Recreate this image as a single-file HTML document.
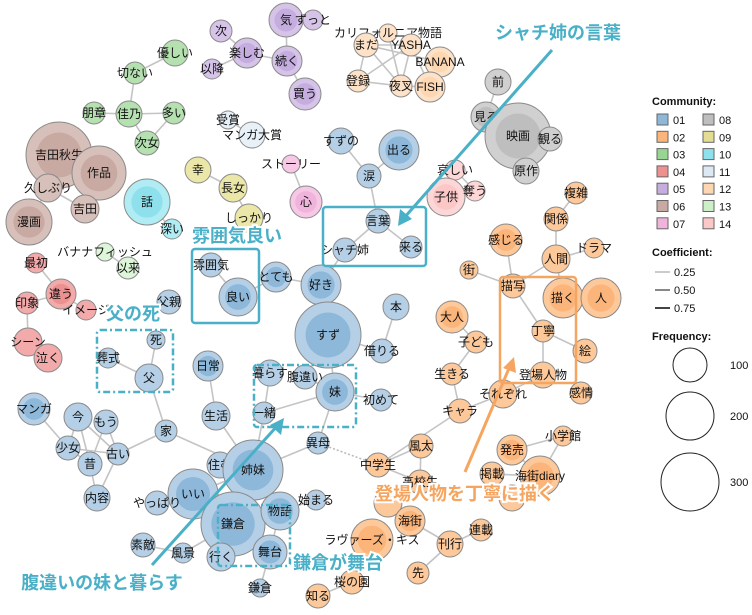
<!DOCTYPE html>
<html><head><meta charset="utf-8"><style>
body{margin:0;background:#fff;}
svg{display:block;font-family:"Liberation Sans","Noto Sans CJK JP",sans-serif;}
.n{font-size:12px;text-anchor:middle;dominant-baseline:central;fill:#111;}
.ann{font-size:18px;font-weight:bold;text-anchor:middle;dominant-baseline:central;stroke:#fff;stroke-width:4px;paint-order:stroke;}
.lg{font-size:11px;fill:#111;}
</style></head><body>
<svg id="s" width="752" height="615" viewBox="0 0 752 615" xmlns="http://www.w3.org/2000/svg">
<g id="edges" stroke="#c4c4c4" stroke-width="1.6" fill="none"></g>
<g id="nodes"></g>
<g fill="none" stroke-width="2.5">
<rect x="192" y="249" width="67" height="74" rx="3" stroke="#4ab0c8"/>
<rect x="323" y="207" width="103" height="59" rx="3" stroke="#4ab0c8"/>
<rect x="97" y="330" width="76" height="62" rx="3" stroke="#4ab0c8" stroke-dasharray="7,3,2,3"/>
<rect x="254" y="365" width="102" height="62" rx="3" stroke="#4ab0c8" stroke-dasharray="7,3,2,3"/>
<rect x="218" y="505" width="72" height="61" rx="3" stroke="#4ab0c8" stroke-dasharray="7,3,2,3"/>
<rect x="500" y="277" width="76" height="106" rx="3" stroke="#f5a560"/>
</g>
<g stroke-width="3">
<line x1="552" y1="50" x2="404" y2="218" stroke="#4ab0c8"/>
<polygon points="398,226 400,209 412,219" fill="#4ab0c8"/>
<line x1="152" y1="565" x2="278" y2="425" stroke="#4ab0c8"/>
<polygon points="284,418 281,435 270,425" fill="#4ab0c8"/>
<line x1="465" y1="472" x2="510" y2="366" stroke="#f5a560"/>
<polygon points="514,357 516,373 503,368" fill="#f5a560"/>
</g>
<g class="ann">
<text x="237" y="236" fill="#4ab0c8">雰囲気良い</text>
<text x="558" y="33" fill="#4ab0c8">シャチ姉の言葉</text>
<text x="133" y="314" fill="#4ab0c8">父の死</text>
<text x="102" y="583" fill="#4ab0c8">腹違いの妹と暮らす</text>
<text x="338" y="563" fill="#4ab0c8">鎌倉が舞台</text>
<text x="465" y="494" fill="#f5a560">登場人物を丁寧に描く</text>
</g>
<g id="legend"></g>
</svg>
<script>
const C={1:['#b5d0e6','#8db8da'],2:['#fdc89a','#fbb57a'],3:['#b5e0b0','#98d492'],4:['#f3aaaa','#ec9090'],5:['#d6c4e8','#c5aedf'],6:['#d8c0ba','#c8aaa2'],7:['#f7c8e6','#f0b4dc'],8:['#d0d0d0','#bebebe'],9:['#ebe7a8','#e2dd92'],10:['#b0ecf3','#8ee0ec'],11:['#e8f1f8','#dce9f4'],12:['#fde2c8','#fdd6b2'],13:['#ddf5d8','#cdefc7'],14:['#fdd7d7','#fcc7c7']};
const N=[
['気',286,20,17,5],['ずっと',313,20,10,5],['次',221,31,11,5],['楽しむ',247,53,15,5],['以降',212,69,10,5],['続く',287,61,15,5],['買う',305,94,16,5],
['優しい',175,53,13,3],['切ない',135,73,11,3],['朋章',94,113,11,3],['佳乃',129,114,13,3],['多い',174,113,11,3],['次女',147,143,12,3],
['受賞',228,120,9,11],['マンガ大賞',252,135,13,11],
['吉田秋生',59,155,33,6],['作品',99,173,27,6],['久しぶり',48,188,14,6],['吉田',85,209,14,6],['漫画',29,222,23,6],
['話',147,202,23,10],['深い',172,229,10,10],
['幸',198,170,13,9],['長女',233,188,14,9],['しっかり',249,218,14,9],
['ストーリー',291,164,9,7],['心',306,202,16,7],
['バナナフィッシュ',105,252,9,13],['以来',128,268,11,13],
['最初',36,263,10,4],['違う',61,294,15,4],['印象',27,303,11,4],['イメージ',86,310,10,4],['シーン',28,342,14,4],['泣く',48,358,14,4],
['雰囲気',211,265,12,1],['良い',238,297,19,1],['とても',276,277,15,1],['好き',321,285,20,1],['父親',169,302,12,1],
['カリフォルニア物語',388,33,9,12],['まだ',366,45,12,12],['YASHA',411,45,11,12],['BANANA',440,62,15,12],['登録',358,81,11,12],['夜叉',401,86,11,12],['FISH',430,87,15,12],
['前',498,82,13,8],['見る',486,117,15,8],['映画',518,136,33,8],['観る',550,139,12,8],['原作',526,171,13,8],
['すずの',341,141,13,1],['出る',399,150,20,1],['涙',369,176,12,1],['言葉',378,221,12,1],['シャチ姉',345,250,12,1],['来る',411,247,11,1],
['哀しい',455,170,10,14],['子供',446,197,19,14],['奪う',475,191,10,14],
['複雑',576,193,11,2],['関係',556,219,12,2],['ドラマ',594,248,10,2],['人間',556,259,14,2],['感じる',506,240,16,2],['街',469,270,9,2],['描写',513,286,12,2],['描く',563,298,20,2],['人',601,298,20,2],
['本',396,307,13,1],['すず',328,335,33,1],['借りる',382,351,12,1],['妹',335,392,19,1],['初めて',381,400,11,1],['異母',318,443,11,1],
['大人',452,317,16,2],['子ども',476,342,11,2],['生きる',452,374,11,2],['キャラ',460,411,12,2],['それぞれ',503,394,14,2],['丁寧',543,331,11,2],['絵',585,351,12,2],['登場人物',543,375,13,2],['感情',581,393,11,2],
['風太',421,446,12,2],['中学生',378,465,12,2],['高校生',420,482,12,2],['発売',512,450,15,2],['小学館',563,436,10,2],['掲載',492,474,12,2],['海街diary',540,476,20,2],['',512,498,13,2],['',388,503,14,2],['海街',410,521,15,2],['ラヴァーズ・キス',372,540,21,2],['刊行',450,544,13,2],['連載',481,530,11,2],['先',418,573,11,2],['桜の園',352,582,12,2],['知る',318,596,12,2],
['死',156,340,9,1],['葬式',108,358,10,1],['父',149,378,14,1],
['日常',208,366,15,1],['生活',216,416,14,1],['暮らす',270,373,13,1],['腹違い',305,377,12,1],['一緒',264,413,11,1],
['マンガ',34,409,16,1],['今',78,417,14,1],['もう',106,422,12,1],['少女',68,448,12,1],['昔',90,464,12,1],['古い',118,454,11,1],['内容',97,498,13,1],['家',166,431,11,1],
['住む',220,465,13,1],['姉妹',253,470,30,1],['いい',193,494,25,1],['やっぱり',157,503,12,1],['鎌倉',233,524,32,1],['物語',280,511,19,1],['始まる',316,500,10,1],['素敵',143,545,12,1],['風景',183,553,10,1],['行く',221,557,14,1],['舞台',270,552,17,1],['鎌倉 ',260,588,9,1]
];
const P={};N.forEach((n,i)=>{P[n[0]||('_'+i)]=n;});
const E=[['気','ずっと'],['気','続く'],['次','楽しむ'],['以降','楽しむ'],['楽しむ','続く'],['続く','買う'],
['優しい','切ない'],['切ない','佳乃'],['朋章','佳乃'],['佳乃','多い'],['佳乃','次女'],['多い','次女'],['受賞','マンガ大賞'],
['吉田秋生','作品'],['吉田秋生','久しぶり'],['久しぶり','吉田'],['作品','吉田'],['漫画','久しぶり'],['話','深い'],['幸','長女'],['長女','しっかり'],['ストーリー','心'],['バナナフィッシュ','以来'],
['最初','違う'],['違う','印象'],['違う','イメージ'],['印象','シーン'],['シーン','泣く'],['雰囲気','良い'],['良い','とても'],['とても','好き'],['好き','すず'],['好き','シャチ姉'],
['まだ','YASHA'],['まだ','登録'],['まだ','夜叉'],['YASHA','夜叉'],['YASHA','FISH'],['BANANA','FISH'],['登録','夜叉'],['夜叉','FISH'],['カリフォルニア物語','夜叉'],['登録','YASHA'],['BANANA','まだ'],
['前','見る'],['見る','映画'],['映画','観る'],['映画','原作'],['すずの','涙'],['出る','涙'],['涙','言葉'],['言葉','シャチ姉'],['言葉','来る'],['哀しい','奪う'],['子供','奪う'],
['複雑','関係'],['関係','人間'],['人間','ドラマ'],['人間','描写'],['人間','描く'],['感じる','描写'],['街','描写'],['描写','丁寧'],['丁寧','絵'],['丁寧','登場人物'],['登場人物','それぞれ'],
['本','借りる'],['借りる','すず'],['すず','妹'],['すず','腹違い'],['妹','初めて'],['妹','異母'],['妹','腹違い'],['暮らす','一緒'],['一緒','妹'],
['大人','子ども'],['子ども','生きる'],['生きる','キャラ'],['キャラ','それぞれ'],['キャラ','中学生'],['風太','中学生'],['風太','高校生'],['中学生','高校生'],['中学生','_134'],['発売','小学館'],['発売','海街diary'],['海街diary','小学館'],['掲載','海街diary'],['_133','海街diary'],['_133','連載'],['連載','刊行'],['刊行','海街'],['海街','_134'],['_134','ラヴァーズ・キス'],['刊行','先'],['ラヴァーズ・キス','桜の園'],['桜の園','知る'],
['死','父'],['葬式','父'],['父','家'],['日常','生活'],['生活','姉妹'],['マンガ','少女'],['今','少女'],['今','昔'],['今','古い'],['もう','昔'],['もう','古い'],['少女','昔'],['少女','古い'],['昔','内容'],['古い','内容'],['古い','家'],['家','姉妹'],
['住む','姉妹'],['姉妹','いい'],['姉妹','鎌倉'],['姉妹','物語'],['姉妹','異母'],['姉妹','一緒'],['いい','やっぱり'],['いい','鎌倉'],['鎌倉','物語'],['鎌倉','行く'],['鎌倉','舞台'],['鎌倉','風景'],['素敵','風景'],['物語','始まる'],['舞台','鎌倉 '],['舞台','物語']];
const NS='http://www.w3.org/2000/svg';
function el(t,a,p){const e=document.createElementNS(NS,t);for(const k in a)e.setAttribute(k,a[k]);p.appendChild(e);return e;}
const eg=document.getElementById('edges'),ng=document.getElementById('nodes'),lg=document.getElementById('legend');
E.forEach(([a,b])=>{const A=P[a],B=P[b];if(A&&B)el('line',{x1:A[1],y1:A[2],x2:B[1],y2:B[2]},eg);});
el('line',{x1:318,y1:443,x2:378,y2:465,stroke:'#bbb','stroke-dasharray':'2,2'},eg);
N.forEach(n=>{const c=C[n[4]];el('circle',{cx:n[1],cy:n[2],r:n[3],fill:c[0],stroke:'#8a8a8a','stroke-width':1},ng);
if(n[3]>14)el('circle',{cx:n[1],cy:n[2],r:n[3]*0.68,fill:c[1]},ng);
if(n[0]){const t=el('text',{x:n[1],y:n[2],class:'n'},ng);t.textContent=n[0].trim();}});
function tx(x,y,s,a){const t=el('text',Object.assign({x:x,y:y,class:'lg'},a||{}),lg);t.textContent=s;}
tx(652,105,'Community:',{'font-weight':'bold'});
for(let i=0;i<7;i++){const y=114+i*17.3;
el('rect',{x:657,y:y,width:11,height:11,fill:C[i+1][1],stroke:'#666'},lg);tx(673,y+10,'0'+(i+1));
el('rect',{x:703,y:y,width:11,height:11,fill:C[i+8][1],stroke:'#666'},lg);tx(719,y+10,String(i+8).padStart(2,'0'));}
tx(652,256,'Coefficient:',{'font-weight':'bold'});
['#ccc','#888','#444'].forEach((c,i)=>{const y=272+i*18;el('line',{x1:655,y1:y,x2:670,y2:y,stroke:c,'stroke-width':2},lg);tx(674,y+4,['0.25','0.50','0.75'][i]);});
tx(652,340,'Frequency:',{'font-weight':'bold'});
[[365,17,'100'],[416,24,'200'],[482,29,'300']].forEach(f=>{el('circle',{cx:690,cy:f[0],r:f[1],fill:'none',stroke:'#222'},lg);tx(730,f[0]+4,f[2]);});
</script>
</body></html>
